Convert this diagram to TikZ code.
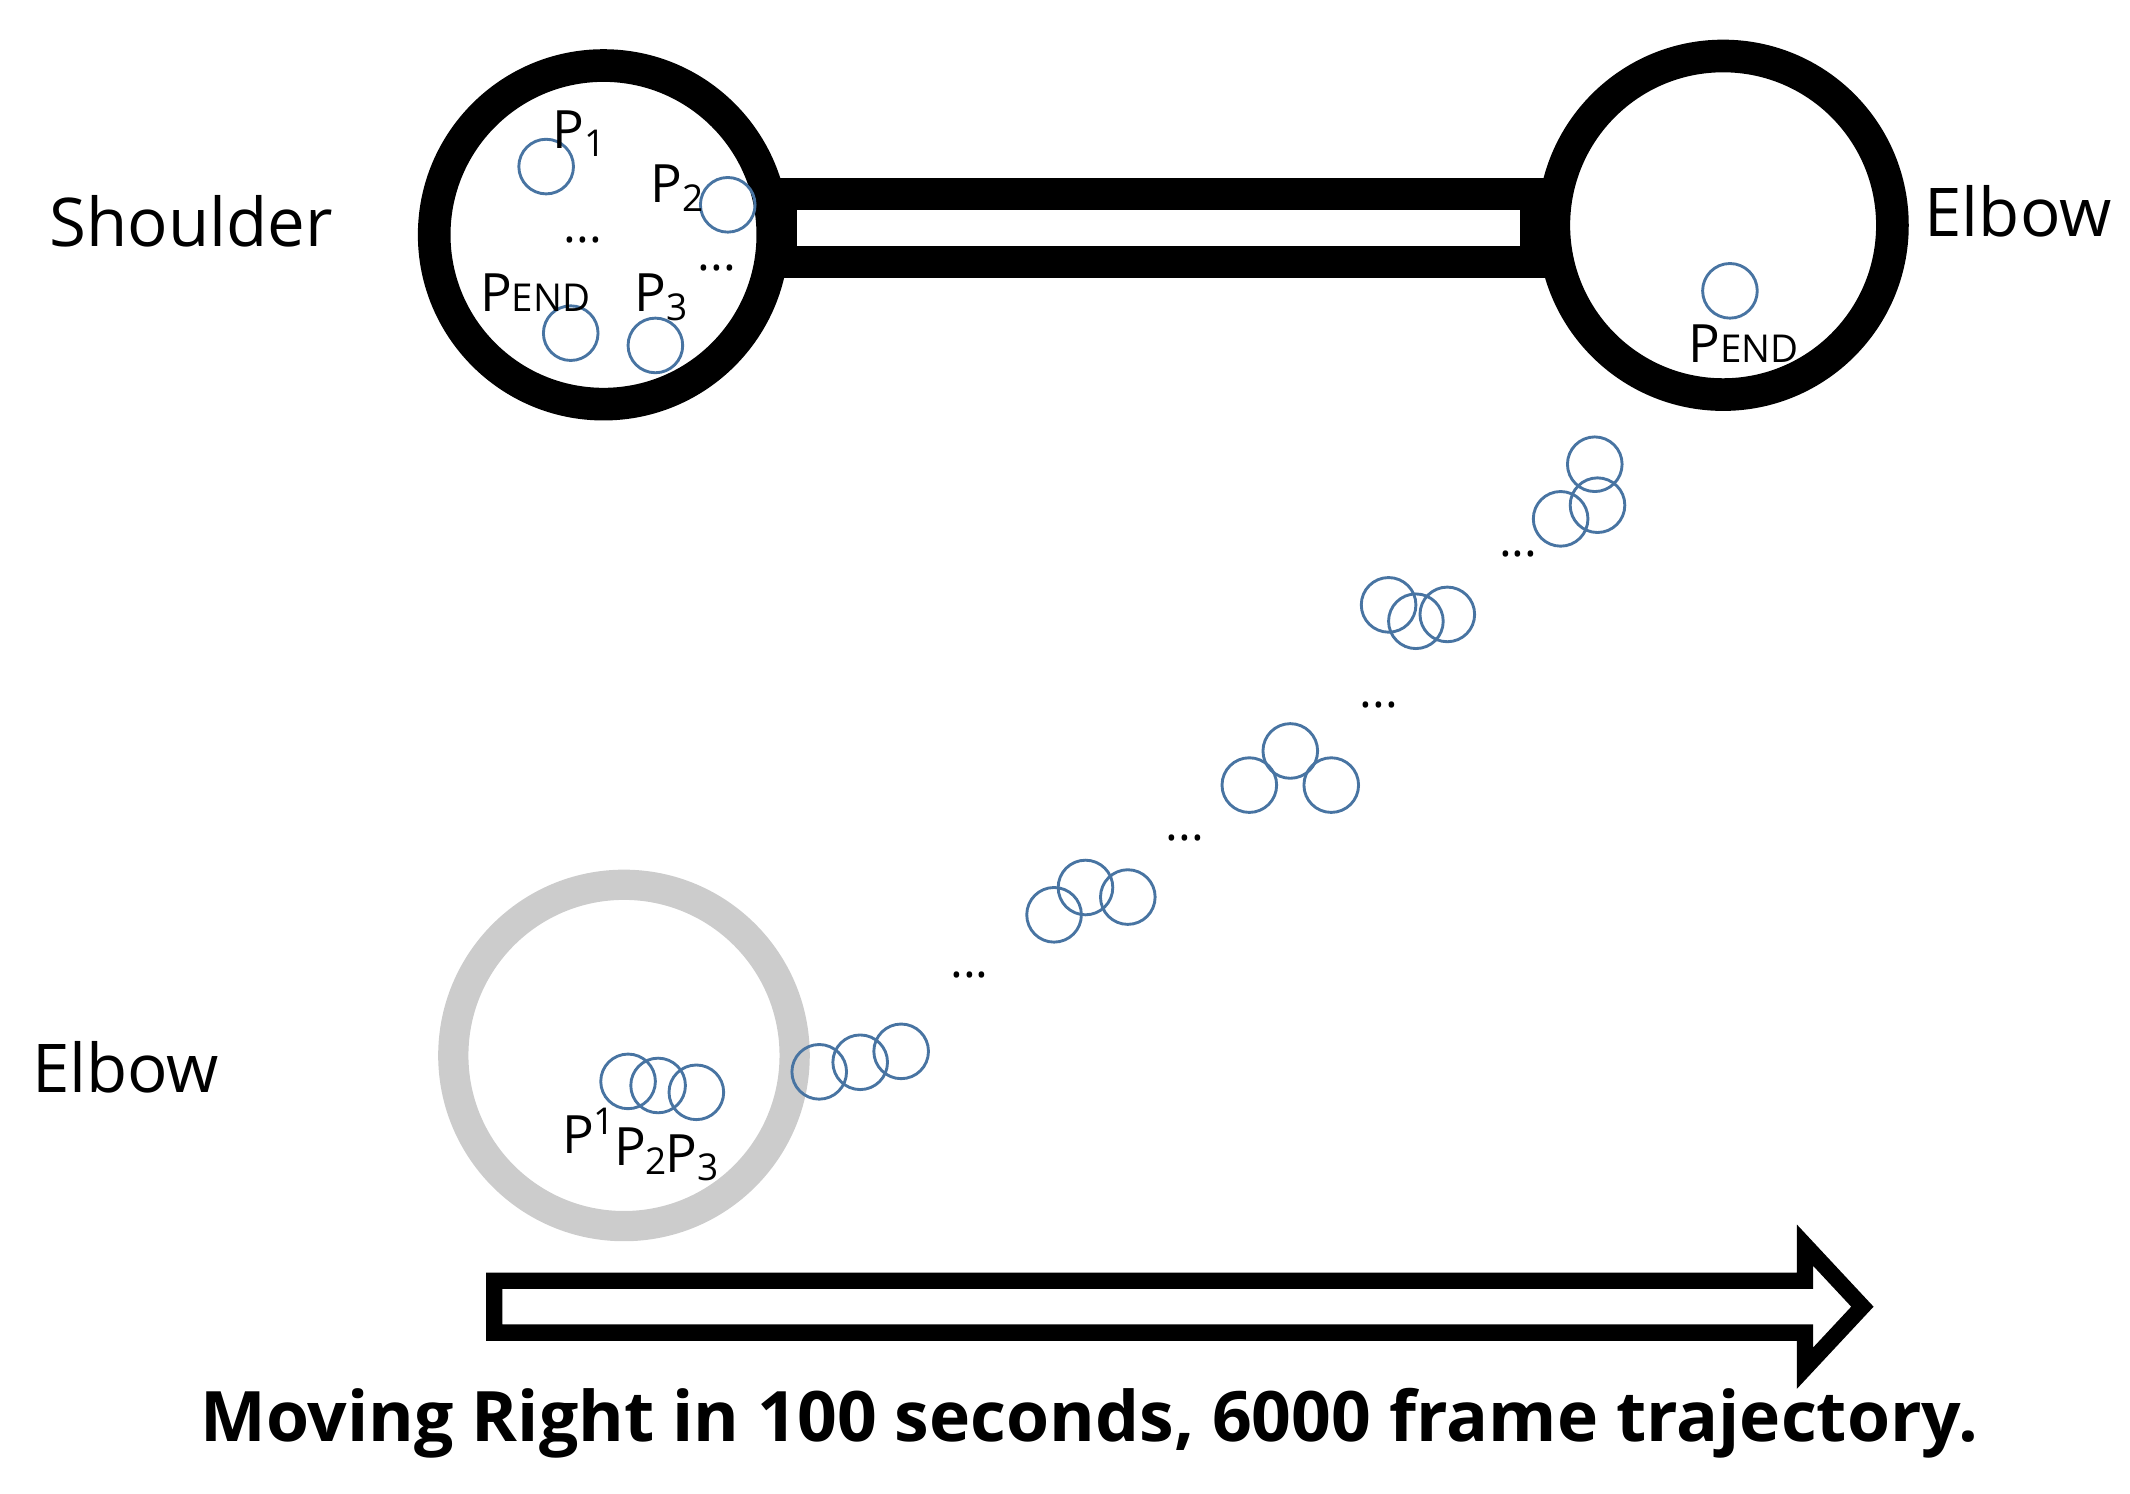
\documentclass[tikz,border=0pt]{standalone}
\usepackage{fontspec}
\setmainfont{Open Sans}
\definecolor{cb}{RGB}{72,116,162}
\begin{document}
\begin{tikzpicture}[x=0.01cm,y=-0.01cm,
  big/.style={line width=6.8pt,draw=black},
  sc/.style={circle,draw=cb,line width=0.6pt,minimum size=0.4cm,inner sep=0pt},
  lab/.style={font=\fontsize{14}{16}\selectfont,inner sep=0pt},
  pl/.style={font=\fontsize{11}{13}\selectfont,inner sep=0pt},
  dots/.style={font=\fontsize{10}{12}\selectfont,inner sep=0pt}]
\useasboundingbox (0,0) rectangle (1560,1094);
% arm
\draw[big] (442,172) circle (124);
\draw[big] (1262,165) circle (124);
\draw[big] (572,142) rectangle (1125,192);
\draw[line width=6.3pt,draw=black!20] (457,773) circle (125);
% small circles
\foreach \n/\x/\y in {a/400/122,b/533/150,c/418/244,d/480/253,e/1267/213,
 f1/1168/340,f3/1143/380,f2/1170/370,g1/1017/443,g2/1037/455,g3/1060/450,
 h1/945/550,h2/915/575,h3/975/575,i1/772/670,i2/795/650,i3/826/657,
 j1/600/785,j2/630/778,j3/660/770,k1/460/792,k2/482/795,k3/510/800}
  \node[sc] (\n) at (\x,\y) {};
% labels
\node[pl] (l1) at (425,98) {P\textsubscript{1}};
\node[pl] (l2) at (497,138) {P\textsubscript{2}};
\node[pl] (l3) at (392,214) {P{\footnotesize END}};
\node[pl] (l4) at (485,218) {P\textsubscript{3}};
\node[pl] (l5) at (1277,252) {P{\footnotesize END}};
\node[pl] (l6) at (432,828) {P\textsuperscript{1}};
\node[pl] (l7) at (470,843) {P\textsubscript{2}};
\node[pl] (l8) at (508,848) {P\textsubscript{3}};
\foreach \n/\x/\y in {d1/427/176,d2/525/196,d3/1112/406,d4/1010/516,d5/868/614,d6/710/714}
  \node[dots] (\n) at (\x,\y) {...};
\node[lab] (sh) at (140,162) {Shoulder};
\node[lab] (el1) at (1478,155) {Elbow};
\node[lab] (el2) at (92,782) {Elbow};
% arrow
\draw[line width=3.4pt,line join=miter] (362,938) -- (1322,938) -- (1322,912) -- (1364,957) -- (1322,1002) -- (1322,976) -- (362,976) -- cycle;
\node[font=\bfseries\fontsize{14.5}{16}\selectfont] (cap) at (798,1042) {Moving Right in 100 seconds, 6000 frame trajectory.};
\end{tikzpicture}
\end{document}
